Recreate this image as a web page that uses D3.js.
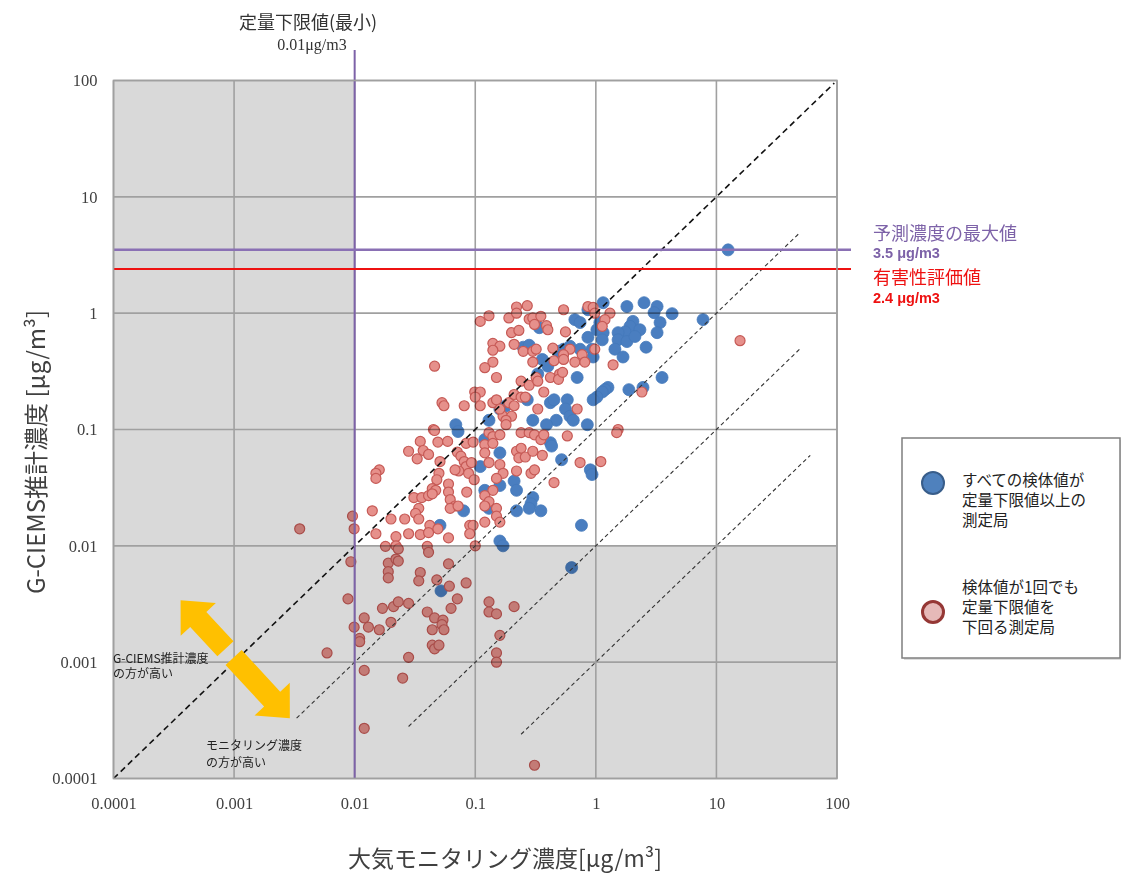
<!DOCTYPE html>
<html>
<head>
<meta charset="utf-8">
<script src="https://cdn.jsdelivr.net/npm/d3@7"></script>
<style>
  body { margin: 0; background: #fff; }
  svg { display: block; }
</style>
</head>
<body>
<svg id="chart" width="1121" height="873"></svg>
<script>
// ---- data ----
const decadeTicks = [0.0001, 0.001, 0.01, 0.1, 1, 10, 100];
const tickLabels  = ["0.0001", "0.001", "0.01", "0.1", "1", "10", "100"];

const loqMin       = 0.01;  // 定量下限値(最小)
const maxPredicted = 3.5;   // 予測濃度の最大値
const hazardValue  = 2.4;   // 有害性評価値

// G-CIEMS / monitoring ratio guide lines: [ratio, x start, x end]
const ratioLines = [
  [1,     0.0001, 95],
  [0.1,   0.0033, 48],
  [0.01,  0.028,  50],
  [0.001, 0.24,   60]
];

// [monitoring concentration, G-CIEMS estimate] — all samples above LOQ
const blueStations = [
  [12.5,3.5],
  [1.81,1.14],[2.51,1.23],[3.22,1.14],[3.04,1.01],[4.29,0.99],[7.75,0.88],[3.41,0.83],[3.22,0.68],
  [2.03,0.85],[1.92,0.77],[1.75,0.69],[1.53,0.68],[2.32,0.72],[1.53,0.59],[1.81,0.57],[2.11,0.63],
  [1.44,0.49],[1.68,0.42],[2.61,0.51],[1.15,1.23],[0.86,1.07],[0.67,0.88],[0.74,0.83],[1.08,0.83],
  [1.02,0.72],[1.15,0.68],[1.13,0.59],[0.86,0.62],[0.93,0.49],[0.95,0.42],[0.74,0.49],[0.61,0.52],
  [0.54,0.49],[0.70,0.28],[1.26,0.23],[1.19,0.22],[1.13,0.21],[1.02,0.19],[0.95,0.18],[1.88,0.22],
  [2.46,0.23],[3.54,0.28],[0.58,0.18],[0.56,0.15],[0.61,0.13],[0.65,0.12],[0.85,0.11],
  [0.34,0.75],[0.25,0.51],[0.28,0.53],[0.36,0.40],[0.40,0.35],[0.49,0.47],[0.33,0.30],[0.42,0.17],
  [0.45,0.18],[0.27,0.18],[0.18,0.16],[0.16,0.15],[0.30,0.12],[0.47,0.12],[0.39,0.11],[0.069,0.11],
  [0.13,0.12],
  [0.072,0.096],[0.051,0.015],[0.080,0.020],[0.11,0.048],[0.12,0.082],[0.16,0.063],[0.42,0.077],
  [0.43,0.072],[0.52,0.055],[0.90,0.045],[0.93,0.041],[0.21,0.036],[0.22,0.030],[0.16,0.033],
  [0.12,0.030],[0.30,0.026],[0.29,0.023],[0.28,0.021],[0.22,0.020],[0.35,0.020],[0.13,0.021],
  [0.76,0.015],[0.16,0.011],[0.17,0.010],[0.052,0.0041],[0.63,0.0065]
];

// [monitoring concentration, G-CIEMS estimate] — at least one sample below LOQ
const redStations = [
  [0.046,0.35],[0.11,0.85],[0.13,0.95],[0.19,0.91],[0.22,1.13],[0.27,1.16],[0.22,1.0],[0.28,0.89],
  [0.30,0.91],[0.35,0.94],[0.31,0.80],[0.39,0.78],[0.40,0.72],[0.20,0.68],[0.23,0.71],[0.14,0.55],
  [0.16,0.52],[0.14,0.48],[0.21,0.54],[0.25,0.47],[0.30,0.47],[0.32,0.49],[0.44,0.50],[0.30,0.38],
  [0.45,0.39],[0.14,0.38],[0.12,0.34],[0.15,0.28],[0.24,0.26],[0.28,0.24],[0.32,0.28],[0.33,0.26],
  [0.42,0.28],[0.50,0.30],[0.49,0.27],[0.37,0.21],[0.099,0.21],[0.11,0.21],[0.10,0.19],[0.053,0.17],
  [0.055,0.16],[0.081,0.16],[0.11,0.16],[0.14,0.17],[0.15,0.18],[0.19,0.17],[0.21,0.20],[0.24,0.19],
  [0.26,0.19],[0.21,0.16],[0.33,0.15],[0.17,0.13],[0.20,0.13],[0.16,0.15],[0.18,0.12],[0.045,0.10],
  [0.54,1.07],[0.86,1.14],[0.95,1.12],[0.98,1.0],[1.31,1.0],[1.19,0.88],[1.13,0.77],[0.56,0.69],
  [0.61,0.49],[0.54,0.44],[0.67,0.38],[0.77,0.44],[0.81,0.38],[0.98,0.49],[0.54,0.40],[1.39,0.36],
  [0.53,0.31],[2.41,0.21],[0.70,0.15],[1.53,0.10],[15.7,0.58],
  [0.046,0.098],[0.035,0.079],[0.049,0.078],[0.059,0.079],[0.028,0.065],[0.037,0.066],[0.041,0.061],
  [0.033,0.056],[0.051,0.053],[0.071,0.064],[0.084,0.076],[0.096,0.078],[0.076,0.059],[0.081,0.053],
  [0.084,0.048],[0.093,0.052],[0.073,0.044],[0.088,0.042],[0.068,0.045],[0.098,0.037],[0.016,0.045],
  [0.015,0.042],[0.015,0.038],[0.050,0.042],[0.048,0.037],[0.060,0.034],[0.044,0.031],[0.047,0.030],
  [0.060,0.029],[0.085,0.029],[0.031,0.026],[0.036,0.026],[0.041,0.027],[0.044,0.028],[0.062,0.025],
  [0.068,0.022],[0.062,0.021],[0.072,0.022],[0.034,0.021],[0.032,0.019],[0.034,0.017],[0.026,0.017],
  [0.020,0.017],[0.014,0.020],[0.0096,0.018],[0.0099,0.014],[0.042,0.015],[0.035,0.0125],[0.041,0.013],
  [0.028,0.0127],[0.022,0.012],[0.015,0.0127],[0.060,0.0117],[0.049,0.014],[0.090,0.015],[0.096,0.015],
  [0.13,0.094],[0.14,0.087],[0.16,0.090],[0.18,0.11],[0.12,0.074],[0.14,0.076],[0.12,0.063],[0.13,0.052],
  [0.16,0.050],[0.17,0.042],[0.15,0.038],[0.22,0.065],[0.24,0.069],[0.23,0.057],[0.26,0.058],[0.24,0.094],
  [0.28,0.094],[0.31,0.090],[0.35,0.082],[0.37,0.090],[0.30,0.065],[0.36,0.060],[0.22,0.044],[0.29,0.042],
  [0.31,0.045],[0.58,0.088],[0.74,0.052],[1.10,0.053],[1.49,0.094],[0.45,0.035],[0.14,0.030],[0.12,0.027],
  [0.13,0.024],[0.12,0.022],[0.15,0.021],[0.15,0.018],[0.16,0.016],[0.12,0.016],
  [0.0093,0.0073],[0.0088,0.0035],[0.0059,0.0012],[0.012,0.00085],[0.012,0.00027],[0.0099,0.0020],
  [0.012,0.0024],[0.013,0.0020],[0.011,0.0016],[0.011,0.0015],[0.016,0.0019],[0.017,0.0029],[0.020,0.0022],
  [0.021,0.0030],[0.023,0.0033],[0.028,0.0032],[0.028,0.0011],[0.025,0.00073],[0.019,0.0071],[0.022,0.0077],
  [0.023,0.0074],[0.019,0.0060],[0.019,0.0053],[0.018,0.0099],[0.022,0.0100],[0.023,0.0094],[0.040,0.0099],
  [0.041,0.0088],[0.035,0.0059],[0.034,0.0050],[0.048,0.0051],[0.061,0.0045],[0.060,0.0070],[0.084,0.0048],
  [0.071,0.0035],[0.063,0.0029],[0.040,0.0027],[0.046,0.0024],[0.054,0.0023],[0.053,0.0021],[0.055,0.0019],
  [0.044,0.0019],[0.044,0.0014],[0.046,0.0013],[0.050,0.0014],[0.10,0.010],[0.13,0.0033],[0.13,0.0027],
  [0.15,0.0026],[0.21,0.0030],[0.16,0.0017],[0.15,0.0012],[0.15,0.0010],[0.31,0.00013],[0.090,0.0127],
  [0.0035,0.014]
];

// annotation arrow ends (data units): toward "G-CIEMS higher" / "monitoring higher"
const arrowEnds = [[0.00036, 0.0034], [0.0029, 0.00033]];

// ---- drawing ----
const svg = d3.select("#chart");
const x = d3.scaleLog().domain([1e-4, 100]).range([113.5, 837]);
const y = d3.scaleLog().domain([1e-4, 100]).range([778.5, 80.5]);
const [x0, x1] = x.range();
const [yb, yt] = y.range();

const CJK = "'Noto Sans CJK JP', 'Noto Sans', sans-serif";
const SERIF = "'Liberation Serif', 'DejaVu Serif', serif";

svg.append("rect").attr("width", 1121).attr("height", 873).attr("fill", "#fff");

// shaded zones: below the minimum LOQ on either axis
const bg = svg.append("g");
bg.append("rect").attr("x", x0).attr("y", yt).attr("width", x(loqMin) - x0).attr("height", yb - yt).attr("fill", "#d9d9d9");
bg.append("rect").attr("x", x0).attr("y", y(loqMin)).attr("width", x1 - x0).attr("height", yb - y(loqMin)).attr("fill", "#d9d9d9");

// grid lines
const grid = svg.append("g").attr("stroke", "#a0a0a0").attr("stroke-width", 1.6);
grid.selectAll("line.v").data(decadeTicks).join("line")
  .attr("class", "v")
  .attr("x1", d => x(d)).attr("x2", d => x(d)).attr("y1", yt).attr("y2", yb);
grid.selectAll("line.h").data(decadeTicks).join("line")
  .attr("class", "h")
  .attr("y1", d => y(d)).attr("y2", d => y(d)).attr("x1", x0).attr("x2", x1);

// tick labels
const fmt = d => tickLabels[decadeTicks.indexOf(d)];
const xAxis = svg.append("g").attr("transform", `translate(0,${yb})`)
  .call(d3.axisBottom(x).tickValues(decadeTicks).tickFormat(fmt).tickSize(0).tickPadding(19));
const yAxis = svg.append("g").attr("transform", `translate(${x0},0)`)
  .call(d3.axisLeft(y).tickValues(decadeTicks).tickFormat(fmt).tickSize(0).tickPadding(16));
[xAxis, yAxis].forEach(g => {
  g.select(".domain").remove();
  g.selectAll("text").attr("font-family", SERIF).attr("font-size", 16.5).attr("fill", "#404040");
});

// station points
const pts = svg.append("g").style("mix-blend-mode", "multiply");
pts.selectAll("circle.blue").data(blueStations).join("circle")
  .attr("class", "blue")
  .attr("cx", d => x(d[0])).attr("cy", d => y(d[1])).attr("r", 6)
  .attr("fill", "#4a7ec0").attr("stroke", "#4478ba").attr("stroke-width", 0.8);
pts.selectAll("circle.red").data(redStations).join("circle")
  .attr("class", "red")
  .attr("cx", d => x(d[0])).attr("cy", d => y(d[1])).attr("r", 5)
  .attr("fill", "#e6908b").attr("stroke", "#c65a56").attr("stroke-width", 1.2);

// ratio guide lines
const guide = svg.append("g").attr("fill", "none");
ratioLines.forEach(([r, a, b], i) => {
  guide.append("path")
    .attr("d", d3.line()([[x(a), y(a * r)], [x(b), y(b * r)]]))
    .attr("stroke", i === 0 ? "#111" : "#333")
    .attr("stroke-width", i === 0 ? 1.6 : 1.1)
    .attr("stroke-dasharray", i === 0 ? "6,4" : "4,3");
});

// LOQ line and horizontal reference lines
svg.append("line").attr("x1", x(loqMin)).attr("x2", x(loqMin)).attr("y1", 50).attr("y2", yb)
  .attr("stroke", "#7d62a8").attr("stroke-width", 2);
svg.append("line").attr("x1", x0).attr("x2", 851).attr("y1", y(maxPredicted)).attr("y2", y(maxPredicted))
  .attr("stroke", "#8a70b4").attr("stroke-width", 2.5);
svg.append("line").attr("x1", x0).attr("x2", 851).attr("y1", y(hazardValue)).attr("y2", y(hazardValue))
  .attr("stroke", "#ee1111").attr("stroke-width", 2);

// plot border
svg.append("rect").attr("x", x0).attr("y", yt).attr("width", x1 - x0).attr("height", yb - yt)
  .attr("fill", "none").attr("stroke", "#a0a0a0").attr("stroke-width", 1.6);

// double-headed arrow
(function () {
  const p1 = [x(arrowEnds[0][0]), y(arrowEnds[0][1])];
  const p2 = [x(arrowEnds[1][0]), y(arrowEnds[1][1])];
  const L = Math.hypot(p2[0] - p1[0], p2[1] - p1[1]);
  const ang = Math.atan2(p2[1] - p1[1], p2[0] - p1[0]) * 180 / Math.PI;
  const hl = 26, hw = 24, sw = 11, g0 = 66, g1 = 78;
  const g = svg.append("g").attr("transform", `translate(${p1[0]},${p1[1]}) rotate(${ang})`).attr("fill", "#ffc000");
  g.append("path").attr("d", `M0,0 L${hl},${-hw} L${hl},${-sw} L${g0},${-sw} L${g0},${sw} L${hl},${sw} L${hl},${hw} Z`);
  g.append("path").attr("d", `M${L},0 L${L - hl},${-hw} L${L - hl},${-sw} L${g1},${-sw} L${g1},${sw} L${L - hl},${sw} L${L - hl},${hw} Z`);
})();

// multi-line text helper: one <text> per block, one <tspan> per line
function block(parent, lines, xPos, yFirst, step) {
  const t = parent.append("text");
  lines.forEach((s, i) => t.append("tspan").attr("x", xPos).attr("y", yFirst + i * step).text(s));
  return t;
}

// annotation texts in the plot
const note = svg.append("g").attr("font-family", CJK).attr("font-size", 12).attr("fill", "#222");
block(note, ["G-CIEMS推計濃度", "の方が高い"], 113, 663, 15);
block(note, ["モニタリング濃度", "の方が高い"], 206, 750, 17);

// LOQ label above the plot
svg.append("text").attr("x", 308).attr("y", 21).attr("text-anchor", "middle").attr("dominant-baseline", "central")
  .attr("font-family", CJK).attr("font-size", 18).attr("fill", "#333").text("定量下限値(最小)");
svg.append("text").attr("x", 312).attr("y", 44).attr("text-anchor", "middle").attr("dominant-baseline", "central")
  .attr("font-family", SERIF).attr("font-size", 16).attr("fill", "#333").text("0.01μg/m3");

// reference line labels
const rl = svg.append("g").attr("dominant-baseline", "central");
rl.append("text").attr("x", 873).attr("y", 232).attr("font-family", CJK).attr("font-size", 18).attr("fill", "#7d62a8").text("予測濃度の最大値");
rl.append("text").attr("x", 873).attr("y", 253).attr("font-family", "'Liberation Sans', sans-serif").attr("font-weight", "bold").attr("font-size", 14.5).attr("fill", "#7d62a8").text("3.5 μg/m3");
rl.append("text").attr("x", 873).attr("y", 276).attr("font-family", CJK).attr("font-size", 18).attr("fill", "#ee1111").text("有害性評価値");
rl.append("text").attr("x", 873).attr("y", 298).attr("font-family", "'Liberation Sans', sans-serif").attr("font-weight", "bold").attr("font-size", 14.5).attr("fill", "#ee1111").text("2.4 μg/m3");

// axis titles
svg.append("text").attr("x", 505).attr("y", 857).attr("text-anchor", "middle").attr("dominant-baseline", "central")
  .attr("font-family", CJK).attr("font-size", 23).attr("fill", "#404040").text("大気モニタリング濃度[μg/m³]");
svg.append("text").attr("transform", "translate(34,452) rotate(-90)").attr("text-anchor", "middle").attr("dominant-baseline", "central")
  .attr("font-family", CJK).attr("font-size", 24).attr("fill", "#404040").text("G-CIEMS推計濃度 [μg/m³]");

// legend
const lg = svg.append("g");
lg.append("rect").attr("x", 904).attr("y", 440).attr("width", 218).attr("height", 220).attr("fill", "#bbb").attr("opacity", 0.5);
lg.append("rect").attr("x", 902).attr("y", 438).attr("width", 218).attr("height", 220)
  .attr("fill", "#fff").attr("stroke", "#7f7f7f").attr("stroke-width", 1.5);
lg.append("circle").attr("cx", 933).attr("cy", 483).attr("r", 11).attr("fill", "#4f81bd").attr("stroke", "#385d8a").attr("stroke-width", 2);
lg.append("circle").attr("cx", 933).attr("cy", 612).attr("r", 10.5).attr("fill", "#e6b9b8").attr("stroke", "#953735").attr("stroke-width", 3);
const legText = lg.append("g").attr("font-family", CJK).attr("font-size", 15.5).attr("fill", "#222");
block(legText, ["すべての検体値が", "定量下限値以上の", "測定局"], 962, 486, 20);
block(legText, ["検体値が1回でも", "定量下限値を", "下回る測定局"], 962, 593, 20);
</script>
</body>
</html>
